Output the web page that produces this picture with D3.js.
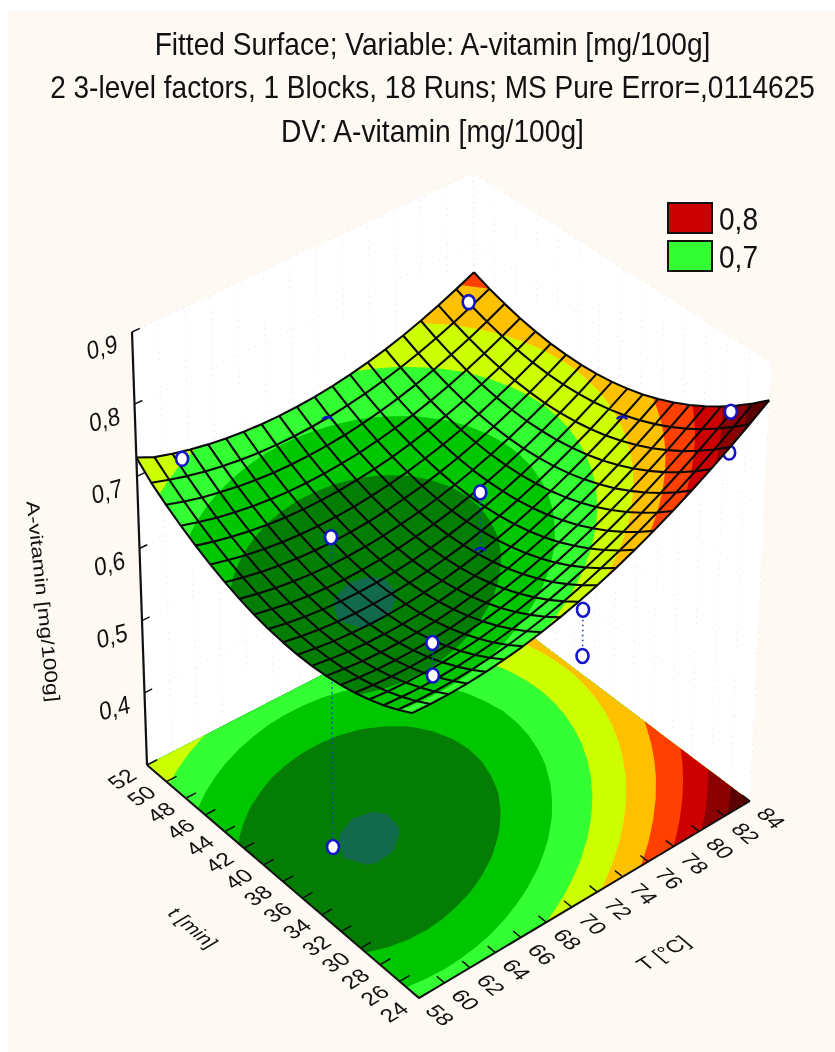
<!DOCTYPE html>
<html>
<head>
<meta charset="utf-8">
<script src="https://cdn.jsdelivr.net/npm/d3@7"></script>
<style>
  html, body { margin: 0; padding: 0; background: #ffffff; }
  svg { filter: blur(0.35px); }
  text { font-family: "Liberation Sans", Arial, sans-serif; fill: #111; }
</style>
</head>
<body>
<div id="chart"></div>
<script>
var titleLines = [
  'Fitted Surface; Variable: A-vitamin [mg/100g]',
  '2 3-level factors, 1 Blocks, 18 Runs; MS Pure Error=,0114625',
  'DV: A-vitamin [mg/100g]'
];

var tempTicks = [58, 60, 62, 64, 66, 68, 70, 72, 74, 76, 78, 80, 82, 84];
var timeTicks = [24, 26, 28, 30, 32, 34, 36, 38, 40, 42, 44, 46, 48, 50, 52];
var vitaminTicks = [0.4, 0.5, 0.6, 0.7, 0.8, 0.9];

var bandLevels = [0.5, 0.6247, 0.65, 0.675, 0.7, 0.725, 0.75, 0.775, 0.8, 0.825];
var bandColours = ['#126a4c', '#037d03', '#00c600', '#33ff33', '#ccff00', '#ffc000', '#ff4000', '#cc0000', '#8b0000', '#5a0000'];

var legendLabels = ['0,8', '0,7'];
var legendColours = ['#cc0000', '#33ff33'];

// surface, one row per time step (24 to 52), one column per temp step (58 to 84)
var vitamin = [
  [.6850,.6835,.6831,.6839,.6858,.6888,.6929,.6982,.7046,.7121,.7207,.7304,.7414,.7533,.7665,.7807,.7962,.8126,.8303,.8490],
  [.6735,.6717,.6709,.6714,.6729,.6755,.6792,.6842,.6902,.6974,.7056,.7150,.7256,.7372,.7500,.7638,.7789,.7950,.8123,.8307],
  [.6635,.6613,.6602,.6603,.6615,.6638,.6671,.6718,.6774,.6843,.6921,.7011,.7114,.7226,.7351,.7486,.7633,.7791,.7960,.8141],
  [.6550,.6525,.6510,.6507,.6515,.6535,.6565,.6608,.6660,.6725,.6800,.6887,.6986,.7094,.7215,.7347,.7491,.7645,.7810,.7987],
  [.6480,.6451,.6433,.6427,.6431,.6447,.6474,.6513,.6562,.6624,.6695,.6778,.6874,.6979,.7096,.7224,.7365,.7515,.7677,.7851],
  [.6425,.6393,.6370,.6361,.6362,.6374,.6397,.6433,.6479,.6536,.6604,.6684,.6775,.6877,.6991,.7115,.7252,.7399,.7558,.7727],
  [.6385,.6349,.6323,.6311,.6308,.6317,.6336,.6368,.6411,.6465,.6529,.6605,.6693,.6792,.6902,.7023,.7156,.7299,.7455,.7621],
  [.6359,.6320,.6290,.6274,.6268,.6273,.6289,.6318,.6357,.6407,.6468,.6541,.6625,.6720,.6827,.6944,.7074,.7214,.7366,.7528],
  [.6349,.6306,.6273,.6253,.6243,.6245,.6258,.6283,.6318,.6365,.6422,.6491,.6572,.6663,.6766,.6880,.7007,.7143,.7291,.7450],
  [.6354,.6308,.6271,.6248,.6234,.6233,.6242,.6263,.6295,.6338,.6392,.6458,.6535,.6623,.6722,.6833,.6956,.7088,.7233,.7388],
  [.6374,.6324,.6284,.6257,.6240,.6235,.6240,.6258,.6286,.6326,.6376,.6438,.6512,.6596,.6692,.6799,.6918,.7047,.7188,.7340],
  [.6409,.6355,.6312,.6281,.6261,.6252,.6254,.6268,.6293,.6329,.6376,.6434,.6505,.6585,.6678,.6781,.6897,.7022,.7160,.7308],
  [.6459,.6402,.6355,.6321,.6297,.6284,.6282,.6293,.6314,.6347,.6390,.6445,.6512,.6589,.6678,.6777,.6889,.7011,.7145,.7290],
  [.6525,.6464,.6414,.6376,.6349,.6333,.6327,.6335,.6352,.6382,.6421,.6472,.6536,.6609,.6695,.6791,.6899,.7018,.7148,.7290],
  [.6605,.6541,.6487,.6445,.6414,.6395,.6386,.6390,.6403,.6429,.6465,.6513,.6573,.6642,.6724,.6817,.6922,.7037,.7163,.7301],
  [.6700,.6632,.6575,.6530,.6495,.6472,.6460,.6460,.6470,.6493,.6525,.6569,.6626,.6692,.6770,.6859,.6961,.7072,.7195,.7330],
  [.6810,.6739,.6677,.6629,.6591,.6564,.6548,.6545,.6552,.6570,.6599,.6640,.6692,.6755,.6830,.6915,.7013,.7121,.7241,.7371],
  [.6935,.6860,.6795,.6744,.6702,.6672,.6652,.6645,.6649,.6664,.6689,.6726,.6775,.6835,.6906,.6988,.7082,.7186,.7303,.7430],
  [.7075,.6997,.6928,.6873,.6827,.6794,.6771,.6760,.6760,.6771,.6793,.6827,.6872,.6928,.6995,.7074,.7165,.7265,.7378,.7501],
  [.7262,.7148,.7076,.7017,.6968,.6931,.6905,.6891,.6887,.6895,.6913,.6943,.6985,.7037,.7101,.7176,.7264,.7361,.7470,.7590]
];

// observed and predicted runs
var runTemp = [60.3, 71.4, 82, 82, 82, 82, 71.4, 71.4, 60.3, 60.1, 60.3, 60.3, 71.4, 71.4];
var runTime = [50.4, 50.4, 50, 35.2, 25, 25, 35.2, 35.2, 35.2, 35.5, 25, 25, 25, 25];
var runVitamin = [.722, .674, .754, .731, .844, .788, .736, .651, .78, .355, .746, .702, .68, .617];
// 0 hidden below the surface, 1 in front of it, 2 only a sliver pokes through
var runLayer = [1, 2, 1, 2, 1, 0, 1, 2, 1, 0, 1, 1, 0, 0];
var dropFrom = [8, 12, 6, 10];
var dropTo = [9, 13, 7, 11];
var dropOver = [false, false, true, true];

var width = 835, height = 1052;

// screen position of the box corners
var floorFront = [419, 998], floorRight = [750, 801], floorLeft = [147, 765], floorBack = [477, 595];
var topFront = [408, 554], topRight = [771, 363], topLeft = [132, 332], topBack = [473, 173];

var tempScale = d3.scaleLinear().domain([58, 84]).range([0, 1]);
var timeScale = d3.scaleLinear().domain([24, 52]).range([0, 1]);
var vitScale = d3.scaleLinear().domain([0.3, 0.9]).range([0, 1]);

function mix(a, b, f) {
  return [a[0] + (b[0] - a[0]) * f, a[1] + (b[1] - a[1]) * f];
}

function project(temp, time, vit) {
  var u = tempScale(temp), v = timeScale(time), w = vitScale(vit);
  var low = mix(mix(floorFront, floorRight, u), mix(floorLeft, floorBack, u), v);
  var high = mix(mix(topFront, topRight, u), mix(topLeft, topBack, u), v);
  return mix(low, high, w);
}

function unit(a, b) {
  var dx = b[0] - a[0], dy = b[1] - a[1], len = Math.sqrt(dx * dx + dy * dy);
  return [dx / len, dy / len];
}

var svg = d3.select('#chart').append('svg')
  .attr('width', width)
  .attr('height', height)
  .style('display', 'block');

svg.append('rect')
  .attr('x', 8).attr('y', 11)
  .attr('width', width - 8).attr('height', height - 11)
  .attr('fill', '#fef9f2');

// squeeze a text into a width, the original fonts are tall and narrow
function fitText(sel, x, y, target) {
  var natural = sel.node().getComputedTextLength();
  sel.attr('transform', 'translate(' + x + ',' + y + ') scale(' + (target / natural) + ',1)');
}

// Titles
var titleWidths = [556, 765, 303];
var titleY = [55, 98, 142];
titleLines.forEach(function (d, i) {
  var t = svg.append('text')
    .attr('text-anchor', 'middle')
    .attr('font-size', '32px')
    .text(d);
  fitText(t, 432.5, titleY[i], titleWidths[i]);
});

// Back walls
var line = d3.line();
var wallLeft = [floorLeft, floorBack, topBack, topLeft];
var wallRight = [floorBack, floorRight, topRight, topBack];
[wallLeft, wallRight].forEach(function (wall) {
  svg.append('path')
    .attr('d', line(wall) + 'Z')
    .attr('fill', '#ffffff');
});

var walls = svg.append('g')
  .attr('fill', 'none')
  .attr('stroke', '#e4e4e4')
  .attr('stroke-width', 1)
  .attr('stroke-dasharray', '1 6');

tempTicks.forEach(function (t) {
  walls.append('path').attr('d', line([project(t, 52, 0.3), project(t, 52, 0.9)]));
});
timeTicks.forEach(function (t) {
  walls.append('path').attr('d', line([project(84, t, 0.3), project(84, t, 0.9)]));
});
vitaminTicks.forEach(function (z) {
  walls.append('path').attr('d', line([project(58, 52, z), project(84, 52, z), project(84, 24, z)]));
});

// Contour bands, floor and surface use the same polygons
var nCols = vitamin[0].length, nRows = vitamin.length;
var flat = d3.merge(vitamin);
var bands = d3.contours()
  .size([nCols, nRows])
  .thresholds(bandLevels)(flat);

var colToTemp = d3.scaleLinear().domain([0, nCols - 1]).range([58, 84]).clamp(true);
var rowToTime = d3.scaleLinear().domain([0, nRows - 1]).range([24, 52]).clamp(true);

function surfaceAt(gx, gy) {
  var cx = Math.max(0, Math.min(nCols - 1, gx));
  var cy = Math.max(0, Math.min(nRows - 1, gy));
  var ix = Math.min(nCols - 2, Math.floor(cx)), iy = Math.min(nRows - 2, Math.floor(cy));
  var fx = cx - ix, fy = cy - iy;
  var a = vitamin[iy][ix] + (vitamin[iy][ix + 1] - vitamin[iy][ix]) * fx;
  var b = vitamin[iy + 1][ix] + (vitamin[iy + 1][ix + 1] - vitamin[iy + 1][ix]) * fx;
  return a + (b - a) * fy;
}

var floorPath = d3.geoPath(d3.geoTransform({
  point: function (x, y) {
    var p = project(colToTemp(x - 0.5), rowToTime(y - 0.5), 0.3);
    this.stream.point(p[0], p[1]);
  }
}));
var surfacePath = d3.geoPath(d3.geoTransform({
  point: function (x, y) {
    var p = project(colToTemp(x - 0.5), rowToTime(y - 0.5), surfaceAt(x - 0.5, y - 0.5));
    this.stream.point(p[0], p[1]);
  }
}));

function drawBands(path) {
  svg.append('g').selectAll('path').data(bands).enter().append('path')
    .attr('d', path)
    .attr('fill', function (d, i) { return bandColours[i]; })
    .attr('fill-rule', 'evenodd');
}

drawBands(floorPath);

// Axes
function axisLine(points, w) {
  svg.append('path')
    .attr('d', line(points))
    .attr('fill', 'none')
    .attr('stroke', '#111')
    .attr('stroke-width', w);
}

axisLine([project(58, 52, 0.3), project(58, 52, 0.9)], 2.2);
axisLine([project(58, 52, 0.3), project(58, 24, 0.3), project(84, 24, 0.3)], 2);

timeTicks.forEach(function (t) {
  axisLine([project(58, t, 0.3), project(58.8, t, 0.3)], 1.5);
});
tempTicks.forEach(function (t) {
  axisLine([project(t, 24, 0.3), project(t, 24.8, 0.3)], 1.5);
});
vitaminTicks.forEach(function (z) {
  axisLine([project(58, 52, z), project(58.6, 52, z)], 1.5);
});

var dirTemp = unit(floorFront, floorRight);
var dirFront = unit(floorLeft, floorFront);

function planeText(label, x, y, ax, ay, cx, cy, size) {
  return svg.append('text')
    .attr('transform', 'matrix(' + [ax, ay, cx, cy, x, y].join(' ') + ')')
    .attr('text-anchor', 'middle')
    .attr('dy', '.35em')
    .attr('font-size', size + 'px')
    .text(label);
}

timeTicks.forEach(function (t) {
  var p = project(58, t, 0.3);
  planeText(t, p[0] - 25, p[1] + 14, dirTemp[0], dirTemp[1], dirFront[0], dirFront[1], 22);
});
tempTicks.forEach(function (t) {
  var p = project(t, 24, 0.3);
  planeText(t, p[0] + 21, p[1] + 17, dirFront[0], dirFront[1], -dirTemp[0], -dirTemp[1], 22);
});
vitaminTicks.forEach(function (z) {
  var p = project(58, 52, z);
  planeText(String(z).replace('.', ','), p[0] - 30, p[1] + 15, 0.95, -0.26, 0.14, 1.1, 23);
});

planeText('t [min]', 193, 928, dirFront[0], dirFront[1], -dirTemp[0], -dirTemp[1], 20);
planeText('T [°C]', 663, 953, dirTemp[0], dirTemp[1], dirFront[0], dirFront[1], 21);

var zTitle = svg.append('text')
  .attr('text-anchor', 'middle')
  .attr('font-size', '18px')
  .text('A-vitamin [mg/100g]');
zTitle.attr('transform', 'translate(37,602) rotate(84) scale(' + (202 / zTitle.node().getComputedTextLength()) + ',1)');

// Runs
function runPoint(i) {
  return project(runTemp[i], runTime[i], runVitamin[i]);
}

function drawDrops(over) {
  dropFrom.forEach(function (from, k) {
    if (dropOver[k] !== over) return;
    svg.append('path')
      .attr('d', line([runPoint(from), runPoint(dropTo[k])]))
      .attr('fill', 'none')
      .attr('stroke', '#1a3fc4')
      .attr('stroke-width', 1.6)
      .attr('stroke-dasharray', '1.5 3.5');
  });
}

function drawRuns(layer) {
  runLayer.forEach(function (l, i) {
    if (l !== layer) return;
    var p = runPoint(i);
    svg.append('ellipse')
      .attr('cx', p[0]).attr('cy', p[1])
      .attr('rx', 6).attr('ry', 7)
      .attr('fill', '#ffffff')
      .attr('stroke', '#1414c8')
      .attr('stroke-width', 2.6);
  });
}

drawDrops(false);
drawRuns(0);

// Surface
drawBands(surfacePath);

var mesh = svg.append('g')
  .attr('fill', 'none')
  .attr('stroke', '#0a0a0a')
  .attr('stroke-width', 2.1)
  .attr('stroke-linejoin', 'round');

vitamin.forEach(function (row, j) {
  mesh.append('path').attr('d', line(row.map(function (z, i) {
    return project(colToTemp(i), rowToTime(j), z);
  })));
});
vitamin[0].forEach(function (unused, i) {
  mesh.append('path').attr('d', line(vitamin.map(function (row, j) {
    return project(colToTemp(i), rowToTime(j), row[i]);
  })));
});

drawDrops(true);

// Slivers of the runs that sit just under the surface
var sliver = d3.arc().innerRadius(6).outerRadius(6).startAngle(-1).endAngle(1);
runLayer.forEach(function (l, i) {
  if (l !== 2) return;
  var p = runPoint(i);
  svg.append('path')
    .attr('transform', 'translate(' + p[0] + ',' + p[1] + ')')
    .attr('d', sliver())
    .attr('fill', 'none')
    .attr('stroke', '#1414c8')
    .attr('stroke-width', 2.6);
});

// short stub of the long drop line, above the surface
var stubEnd = project(runTemp[8], runTime[8], 0.74);
svg.append('path')
  .attr('d', line([runPoint(8), stubEnd]))
  .attr('fill', 'none')
  .attr('stroke', '#1a3fc4')
  .attr('stroke-width', 1.6)
  .attr('stroke-dasharray', '1.5 3.5');

drawRuns(1);

// Legend
var legendX = 668, legendY = [203, 241];
legendLabels.forEach(function (label, i) {
  svg.append('rect')
    .attr('x', legendX).attr('y', legendY[i])
    .attr('width', 44).attr('height', 30)
    .attr('fill', legendColours[i])
    .attr('stroke', '#111')
    .attr('stroke-width', 2);
  var t = svg.append('text')
    .attr('font-size', '32px')
    .text(label);
  fitText(t, legendX + 51, legendY[i] + 27, 39);
});
</script>
</body>
</html>
